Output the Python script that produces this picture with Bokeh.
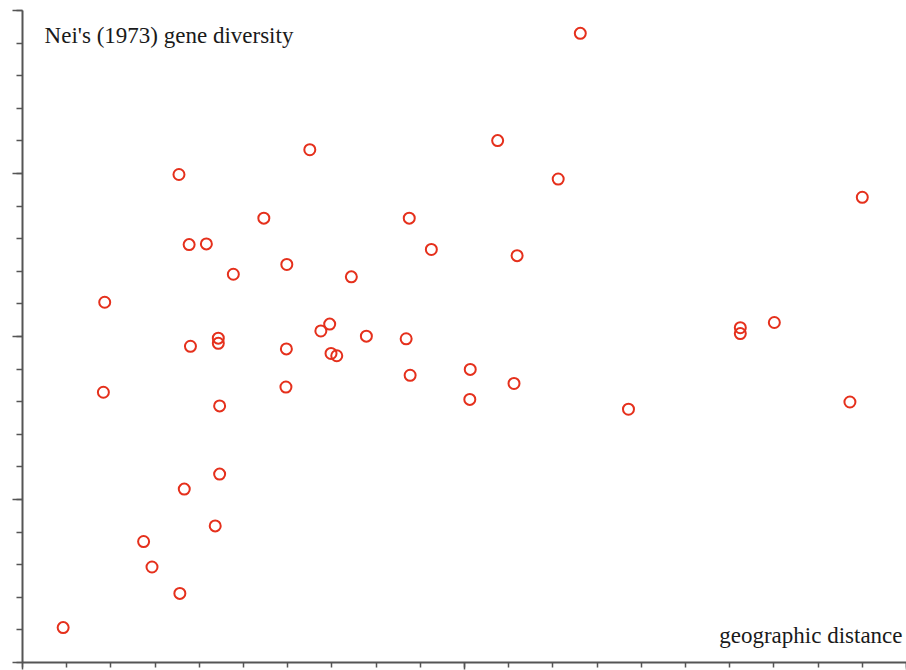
from bokeh.plotting import figure
from bokeh.models import SingleIntervalTicker, Label, Range1d, CustomJSTickFormatter
from bokeh.embed import file_html
from bokeh.resources import INLINE

# geographic distance (km) and Nei's (1973) gene diversity
distance = [92, 183, 186, 274, 293, 354, 356, 366, 377, 380, 416, 436, 443, 443, 446,
            446, 477, 546, 596, 598, 597, 650, 675, 695, 698, 711, 744, 778, 868, 875,
            877, 925, 1013, 1012, 1075, 1112, 1119, 1212, 1262, 1371, 1624, 1624, 1701,
            1872, 1900]
diversity = [0.0107, 0.0829, 0.1105, 0.0371, 0.0293, 0.1497, 0.0212, 0.0532, 0.1282,
             0.0970, 0.1284, 0.0419, 0.0995, 0.0979, 0.0787, 0.0578, 0.1191, 0.1363,
             0.0845, 0.1221, 0.0962, 0.1573, 0.1017, 0.1038, 0.0948, 0.0941, 0.1183,
             0.1001, 0.0993, 0.1363, 0.0881, 0.1267, 0.0899, 0.0807, 0.1601, 0.0856,
             0.1248, 0.1483, 0.1930, 0.0777, 0.1027, 0.1009, 0.1043, 0.0799, 0.1427]

y_title = "Nei's (1973) gene diversity"
x_title = "geographic distance"

p = figure(frame_width=884, frame_height=652, output_backend="svg",
           toolbar_location=None, x_range=Range1d(0, 2000), y_range=Range1d(0, 0.2),
           min_border_left=22, min_border_right=0, min_border_top=10, min_border_bottom=8)
p.outline_line_color = None
p.grid.visible = False
p.background_fill_color = "white"

blank = CustomJSTickFormatter(code="return ''")
axis_color = "#555555"
for ax in (p.xaxis[0], p.yaxis[0]):
    ax.formatter = blank
    ax.major_label_standoff = 0
    ax.major_label_text_font_size = "0px"
    ax.axis_line_color = axis_color
    ax.axis_line_width = 2
    ax.major_tick_line_color = axis_color
    ax.minor_tick_line_color = axis_color
    ax.major_tick_line_width = 1.5
    ax.minor_tick_line_width = 1.5
    ax.major_tick_in = 0
    ax.minor_tick_in = 0

p.xaxis.ticker = SingleIntervalTicker(interval=1000, num_minor_ticks=10)
p.xaxis.major_tick_out = 7
p.xaxis.minor_tick_out = 5
p.yaxis.ticker = SingleIntervalTicker(interval=0.05, num_minor_ticks=5)
p.yaxis.major_tick_out = 10
p.yaxis.minor_tick_out = 6

p.scatter(distance, diversity, marker="circle", size=11, fill_color=None,
          line_color="#e5301c", line_width=2)

p.add_layout(Label(x=50, y=0.1923, text=y_title, text_font="Liberation Serif",
                   text_font_size="23px", text_color="#1a1a1a",
                   text_baseline="alphabetic", text_align="left"))
p.add_layout(Label(x=1991, y=0.0083, text=x_title, text_font="Liberation Serif",
                   text_font_size="23px", text_color="#1a1a1a",
                   text_baseline="alphabetic", text_align="right"))

open("out.html", "w").write(file_html(p, INLINE))
